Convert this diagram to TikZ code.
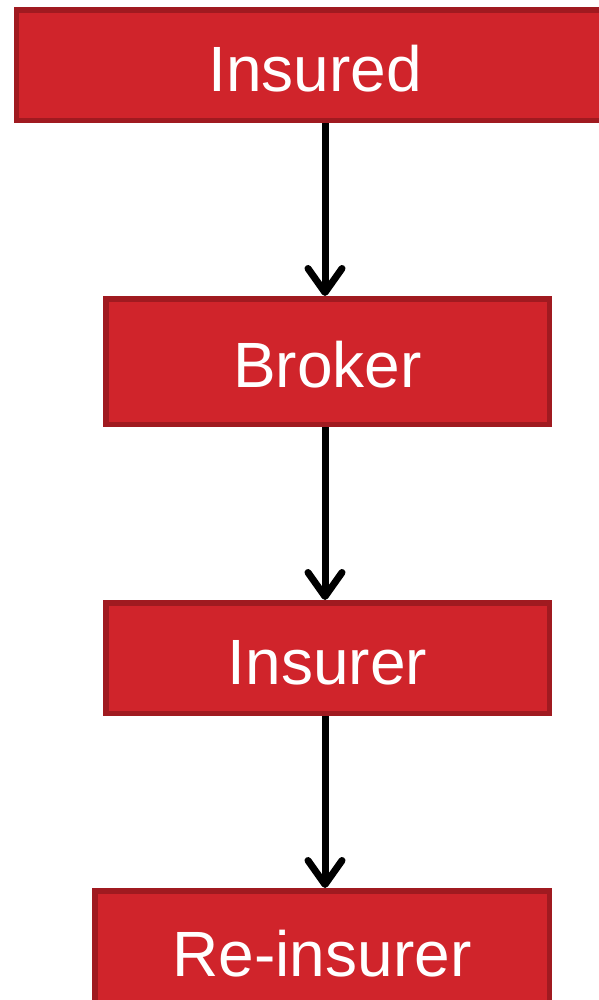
\documentclass[tikz,border=0pt]{standalone}
\usepackage{fontspec}
\setmainfont{Liberation Sans}
\usetikzlibrary{arrows.meta}
\definecolor{boxfill}{HTML}{D0242B}
\definecolor{boxline}{HTML}{A01A20}
\tikzset{
  flowbox/.style={draw=boxline, fill=boxfill, line width=5.5pt, text=white,
    inner sep=0pt, text height=52pt, text depth=0pt, font=\fontsize{64}{70}\selectfont},
  flowarrow/.style={line width=7pt, -{Straight Barb[length=24pt,width=34pt,round]}}
}
\begin{document}
\begin{tikzpicture}[x=1pt,y=-1pt]
\useasboundingbox (0,0) rectangle (598,1000);
\node[flowbox, minimum width=597pt, minimum height=110.5pt] (insured) at (315,65.5) {Insured};
\node[flowbox, minimum width=443.5pt, minimum height=125.5pt] (broker) at (327.5,361.5) {Broker};
\node[flowbox, minimum width=443.5pt, minimum height=110.5pt] (insurer) at (327.5,658) {Insurer};
\node[flowbox, minimum width=454.5pt, minimum height=118.5pt] (reinsurer) at (322,950) {Re-insurer};
\draw[flowarrow] (insured.south -| 325,0) -- (broker.north -| 325,0);
\draw[flowarrow] (broker.south -| 325,0) -- (insurer.north -| 325,0);
\draw[flowarrow] (insurer.south -| 325,0) -- (reinsurer.north -| 325,0);
\end{tikzpicture}
\end{document}
